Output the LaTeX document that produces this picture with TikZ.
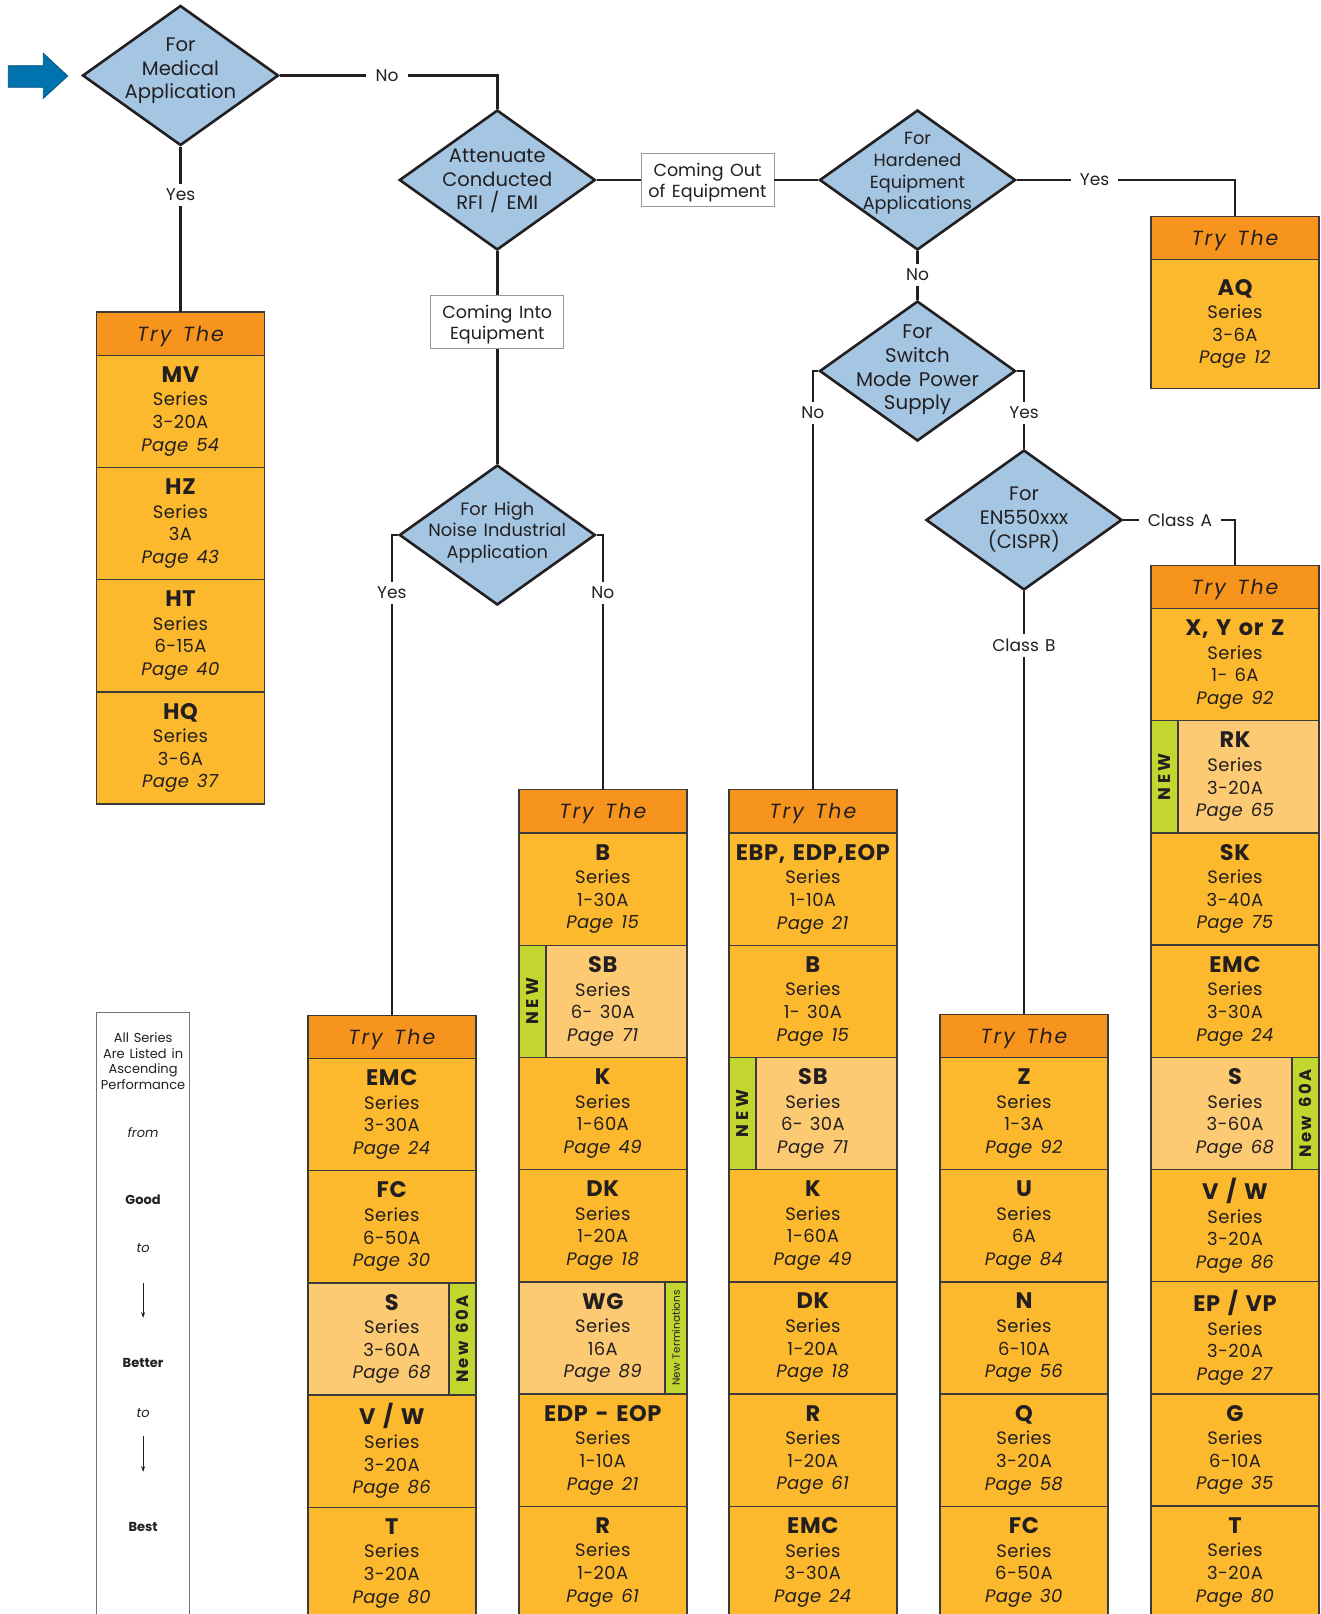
\documentclass[tikz,border=0pt]{standalone}
\usepackage{fontspec}
\setmainfont{Poppins}[WordSpace=1.4]
\usepackage{graphicx}
\usepackage{tikz}
\usetikzlibrary{positioning,shapes.geometric,arrows.meta}
\definecolor{dia}{HTML}{A4C6E3}
\definecolor{orng}{HTML}{F7941E}
\definecolor{gold}{HTML}{FDB92D}
\definecolor{pale}{HTML}{FDCA74}
\definecolor{lime}{HTML}{C3D62F}
\definecolor{inkc}{HTML}{231F20}
\definecolor{edge}{HTML}{3A3A3A}
\definecolor{flow}{HTML}{0072AE}
\newcommand{\prodtxt}[3]{{\fontsize{22.5}{22.6}\selectfont\bfseries\addfontfeature{LetterSpace=3}#1}\\[1pt]Series\\#2\\\textit{Page #3}}
\newcommand{\newtag}{\rotatebox{90}{\bfseries\fontsize{17}{17}\selectfont\addfontfeature{LetterSpace=22}NEW}}
\newcommand{\sixtytag}{\rotatebox{90}{\bfseries\fontsize{16.5}{16.5}\selectfont\addfontfeature{LetterSpace=14}New 60A}}
\newcommand{\termtag}{\rotatebox{90}{\fontsize{10.5}{10.5}\selectfont New Terminations}}

\begin{document}
\begin{tikzpicture}[x=1pt,y=-1pt,
  dec/.style={diamond,draw=inkc,line width=2.6,fill=dia,minimum width=196,minimum height=140,inner sep=0pt},
  dtxt/.style={align=center,text=inkc,inner sep=0pt},
  ln/.style={draw=inkc,line width=2.6},
  lbl/.style={text=inkc,inner xsep=9pt,inner ysep=5pt,font=\fontsize{17}{20}\selectfont},
  note/.style={draw=gray!80,line width=0.9,fill=white,align=center,text=inkc,minimum width=133,minimum height=53,inner sep=0pt,text depth=0pt,font=\fontsize{17.5}{21}\selectfont},
  hdr/.style={draw=edge,line width=1.4,fill=orng,minimum width=168,minimum height=43.2,inner sep=0pt,outer sep=0pt,anchor=north,text=inkc,text depth=0pt,font=\fontsize{20.5}{20}\selectfont\itshape\addfontfeature{LetterSpace=10}},
  prodbox/.style={draw=edge,line width=1.4,fill=gold,minimum width=168,minimum height=112.2,inner sep=0pt,outer sep=0pt,anchor=north,align=center,text=inkc,font=\fontsize{18}{22.6}\selectfont\addfontfeature{LetterSpace=2}},
  newbox/.style={prodbox,fill=pale},
  tagbox/.style={draw=edge,line width=1.4,fill=lime,minimum width=27,minimum height=112.2,inner sep=0pt,outer sep=0pt,text=inkc},
  legend/.style={draw=gray!90!black,line width=1.2,minimum width=92.7,minimum height=700,anchor=north,inner sep=0pt},
  lgt/.style={text=inkc,align=center,inner sep=0pt,font=\fontsize{13}{15.4}\selectfont},
  lgarrow/.style={-{Stealth[length=6pt,width=4pt]},line width=0.9,inkc}
]
\path[use as bounding box,clip] (0,0) rectangle (1320,1614);

% entry arrow
\path[fill=flow,draw=flow!70!black,line width=0.8] (8.3,65.7) -- (43.3,65.7) -- (43.3,53.3)
  -- (67.7,76) -- (43.3,98.3) -- (43.3,87.3) -- (8.3,87.3) -- cycle;

% decisions
\node[dec] (med) at (180.5,75.5) {};
\node[dtxt,font=\fontsize{19.6}{23.7}\selectfont] (medt) at (180.5,71) {For\\Medical\\Application};
\node[dec] (att) at (497.3,180) {};
\node[dtxt,font=\fontsize{19.5}{23.7}\selectfont] (attt) at (497.3,181) {Attenuate\\Conducted\\RFI / EMI};
\node[dec] (hard) at (917.5,180) {};
\node[dtxt,font=\fontsize{17.6}{21.6}\selectfont] (hardt) at (917.5,173.4) {For\\Hardened\\Equipment\\Applications};
\node[dec] (sw) at (917.5,371) {};
\node[dtxt,font=\fontsize{19.8}{23.7}\selectfont] (swt) at (917.5,370) {For\\Switch\\Mode Power\\Supply};
\node[dec] (en) at (1024,520) {};
\node[dtxt,font=\fontsize{19.5}{23.7}\selectfont] (ent) at (1024,519.5) {For\\EN550xxx\\(CISPR)};
\node[dec] (hn) at (497.3,535) {};
\node[dtxt,font=\fontsize{17.8}{21.6}\selectfont] (hnt) at (497.3,532.5) {For High\\Noise Industrial\\Application};

\node[note] (out) at (707.5,180) {Coming Out\\of Equipment};
\node[note] (into) at (497.3,322) {Coming Into\\Equipment};

% branch labels
\node[lbl] (no1) at (387,75.5) {No};
\node[lbl] (yes1) at (180.5,195) {Yes};
\node[lbl] (yes2) at (1094.5,180) {Yes};
\node[lbl] (no2) at (917.5,275) {No};
\node[lbl] (no3) at (812.9,413) {No};
\node[lbl] (yes3) at (1024,413) {Yes};
\node[lbl] (cla) at (1180,520) {Class A};
\node[lbl] (clb) at (1024,645.5) {Class B};
\node[lbl] (yes4) at (391.8,593) {Yes};
\node[lbl] (no4) at (602.8,593) {No};

% product columns
\node[hdr] (lh) at (180.5,312) {Try The};
\foreach \nm/\amp/\pg [count=\i] in {MV/3-20A/54,HZ/3A/43,HT/6-15A/40,HQ/3-6A/37}
  \node[prodbox] (l\i) at (180.5,{355.2+(\i-1)*112.2}) {\prodtxt{\nm}{\amp}{\pg}};

\node[hdr] (qh) at (1235,216.2) {Try The};
\node[prodbox,minimum height=128.7] (q1) at (1235,259.5) {\prodtxt{AQ}{3-6A}{12}};

\node[hdr] (ah) at (391.8,1015.2) {Try The};
\foreach \nm/\amp/\pg/\st [count=\i] in {EMC/3-30A/24/prodbox,FC/6-50A/30/prodbox,S/3-60A/68/newbox,
    {V / W}/3-20A/86/prodbox,T/3-20A/80/prodbox}
  \node[\st] (a\i) at (391.8,{1058.4+(\i-1)*112.2}) {\prodtxt{\nm}{\amp}{\pg}};
\node[tagbox,anchor=north east] (atag) at (a3.north east) {\sixtytag};

\node[hdr] (bh) at (602.8,789.7) {Try The};
\foreach \nm/\amp/\pg/\st [count=\i] in {B/1-30A/15/prodbox,SB/6- 30A/71/newbox,K/1-60A/49/prodbox,
    DK/1-20A/18/prodbox,WG/16A/89/newbox,EDP - EOP/1-10A/21/prodbox,R/1-20A/61/prodbox}
  \node[\st] (b\i) at (602.8,{833+(\i-1)*112.2}) {\prodtxt{\nm}{\amp}{\pg}};
\node[tagbox,anchor=north west] (btag) at (b2.north west) {\newtag};
\node[tagbox,anchor=north east,minimum width=22] (btag2) at (b5.north east) {\termtag};

\node[hdr] (ch) at (812.9,789.7) {Try The};
\foreach \nm/\amp/\pg/\st [count=\i] in {{EBP, EDP,EOP}/1-10A/21/prodbox,B/1- 30A/15/prodbox,SB/6- 30A/71/newbox,
    K/1-60A/49/prodbox,DK/1-20A/18/prodbox,R/1-20A/61/prodbox,EMC/3-30A/24/prodbox}
  \node[\st] (c\i) at (812.9,{833+(\i-1)*112.2}) {\prodtxt{\nm}{\amp}{\pg}};
\node[tagbox,anchor=north west] (ctag) at (c3.north west) {\newtag};

\node[hdr] (dh) at (1024,1014.2) {Try The};
\foreach \nm/\amp/\pg [count=\i] in {Z/1-3A/92,U/6A/84,N/6-10A/56,Q/3-20A/58,FC/6-50A/30}
  \node[prodbox] (d\i) at (1024,{1057.4+(\i-1)*112.2}) {\prodtxt{\nm}{\amp}{\pg}};

\node[hdr] (eh) at (1235,565.3) {Try The};
\foreach \nm/\amp/\pg/\st [count=\i] in {{X, Y or Z}/1- 6A/92/prodbox,RK/3-20A/65/newbox,SK/3-40A/75/prodbox,
    EMC/3-30A/24/prodbox,S/3-60A/68/newbox,{V / W}/3-20A/86/prodbox,{EP / VP}/3-20A/27/prodbox,
    G/6-10A/35/prodbox,T/3-20A/80/prodbox}
  \node[\st] (e\i) at (1235,{608.5+(\i-1)*112.2}) {\prodtxt{\nm}{\amp}{\pg}};
\node[tagbox,anchor=north west] (etag) at (e2.north west) {\newtag};
\node[tagbox,anchor=north east] (etag2) at (e5.north east) {\sixtytag};

% connectors
\draw[ln] (med.east) -- (no1) -- (no1 -| att.north) -- (att.north);
\draw[ln] (med.south) -- (yes1) -- (lh.north);
\draw[ln] (att.east) -- (out) -- (hard.west);
\draw[ln] (hard.east) -- (yes2) -- (yes2 -| qh.north) -- (qh.north);
\draw[ln] (hard.south) -- (no2) -- (sw.north);
\draw[ln] (sw.west) -- (sw.west -| ch.north) -- (no3) -- (ch.north);
\draw[ln] (sw.east) -- (sw.east -| en.north) -- (yes3) -- (en.north);
\draw[ln] (en.east) -- (cla) -- (cla -| eh.north) -- (eh.north);
\draw[ln] (en.south) -- (clb) -- (dh.north);
\draw[ln] (att.south) -- (into) -- (hn.north);
\draw[ln] (hn.west) -- (hn.west -| ah.north) -- (yes4) -- (ah.north);
\draw[ln] (hn.east) -- (hn.east -| bh.north) -- (no4) -- (bh.north);

% legend
\node[legend] (lgd) at (143.1,1012) {};
\node[lgt] (lg1) at (143.1,1061) {All Series\\Are Listed in\\Ascending\\Performance};
\node[lgt,font=\fontsize{13}{15}\selectfont\itshape] (lgfrom) at (143.1,1132.6) {from};
\node[lgt,font=\fontsize{13}{15}\selectfont\bfseries] (lggood) at (143.1,1199.5) {Good};
\node[lgt,font=\fontsize{13}{15}\selectfont\itshape] (lgto1) at (143.1,1248) {to};
\node[lgt,font=\fontsize{13}{15}\selectfont\bfseries] (lgbetter) at (143.1,1363) {Better};
\node[lgt,font=\fontsize{13}{15}\selectfont\itshape] (lgto2) at (143.1,1412.6) {to};
\node[lgt,font=\fontsize{13}{15}\selectfont\bfseries] (lgbest) at (143.1,1527) {Best};
\coordinate (ar1a) at (143.1,1283);
\coordinate (ar1b) at (143.1,1318);
\coordinate (ar2a) at (143.1,1436);
\coordinate (ar2b) at (143.1,1472);
\draw[lgarrow] (ar1a) -- (ar1b);
\draw[lgarrow] (ar2a) -- (ar2b);
\end{tikzpicture}
\end{document}
